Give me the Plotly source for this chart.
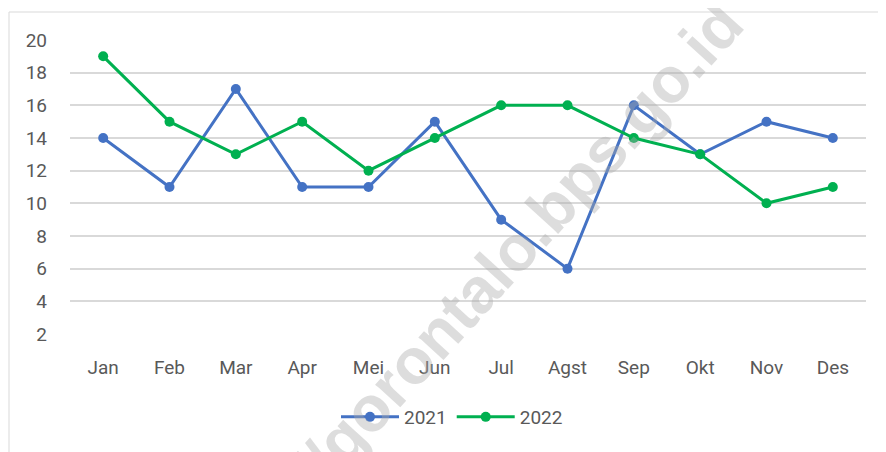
import plotly.graph_objects as go

months = ["Jan", "Feb", "Mar", "Apr", "Mei", "Jun", "Jul", "Agst", "Sep", "Okt", "Nov", "Des"]
y2021 = [14, 11, 17, 11, 11, 15, 9, 6, 16, 13, 15, 14]
y2022 = [19, 15, 13, 15, 12, 14, 16, 16, 14, 13, 10, 11]
ytick_vals = [2, 4, 6, 8, 10, 12, 14, 16, 18, 20]

W, H = 886, 452
OFF = 8  # page body margin
L, R, T, B = 62, 28, 32, 126
pw, ph = W - L - R, H - T - B

def px(x):
    return (x - OFF - L) / pw

def py(y):
    return (H - B - (y - OFF)) / ph

FONT = "Roboto, Arial, sans-serif"

fig = go.Figure()
fig.add_trace(go.Scatter(x=months, y=y2021, name="2021", mode="lines+markers",
                         line=dict(color="#4472C4", width=3),
                         marker=dict(size=10, color="#4472C4")))
fig.add_trace(go.Scatter(x=months, y=y2022, name="2022", mode="lines+markers",
                         line=dict(color="#00B050", width=3),
                         marker=dict(size=10, color="#00B050")))

# watermark
fig.add_annotation(text="<b>http://gorontalo.bps.go.id</b>", xref="paper", yref="paper",
                   x=px(470), y=py(298), xanchor="center", yanchor="middle",
                   showarrow=False, textangle=-47.7,
                   font=dict(family="Liberation Sans, Arial, sans-serif", size=64,
                             color="rgba(170,170,170,0.4)"))

# chart border
fig.add_shape(type="line", xref="paper", yref="paper", x0=px(9), x1=px(9),
              y0=py(12), y1=py(470), line=dict(color="#D9D9D9", width=1))
fig.add_shape(type="line", xref="paper", yref="paper", x0=px(9), x1=px(910),
              y0=py(12), y1=py(12), line=dict(color="#D9D9D9", width=1))

fig.update_layout(
    width=W, height=H,
    margin=dict(l=L, r=R, t=T, b=B, autoexpand=False),
    paper_bgcolor="white", plot_bgcolor="white",
    font=dict(family=FONT, size=19, color="#595959"),
    showlegend=True,
    legend=dict(orientation="h", x=px(452), xanchor="center", y=py(417), yanchor="middle",
                font=dict(size=19, color="#595959"), tracegroupgap=0, itemwidth=58),
    xaxis=dict(range=[-0.5, 11.5], showgrid=False, zeroline=False, showline=False,
               ticks="", tickfont=dict(size=19, color="#595959"), ticklabelstandoff=20),
    yaxis=dict(range=[2, 20], tickvals=ytick_vals, showgrid=True, gridcolor="#D9D9D9",
               gridwidth=1.5, zeroline=False, showline=False, ticks="",
               tickfont=dict(size=19, color="#595959"), ticklabelstandoff=22),
)

fig.write_html("out.html")
